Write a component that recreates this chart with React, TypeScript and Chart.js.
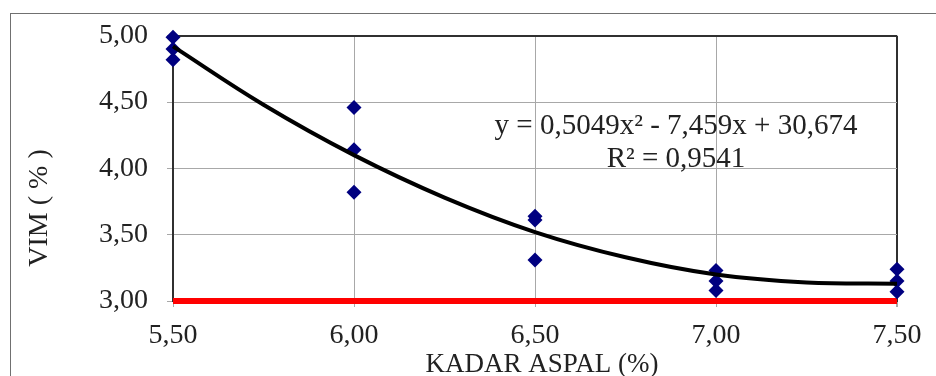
import React, { useEffect, useRef } from "react";
import { Chart, registerables } from "chart.js";

Chart.register(...registerables);

// Data
const kadarAspal = [5.5, 6.0, 6.5, 7.0, 7.5];
const vimBenda1 = [4.99, 4.46, 3.64, 3.23, 3.24];
const vimBenda2 = [4.9, 4.14, 3.61, 3.15, 3.15];
const vimBenda3 = [4.82, 3.82, 3.31, 3.08, 3.07];

const trendX = [5.5, 5.75, 6.0, 6.25, 6.5, 6.75, 7.0, 7.25, 7.5];
const trendY = [4.92, 4.48, 4.1, 3.78, 3.52, 3.33, 3.2, 3.14, 3.13];

const batasX = [5.5, 7.5];
const batasY = [3.0, 3.0];

const yTicks = [3.0, 3.5, 4.0, 4.5, 5.0];
const xTicks = [5.5, 6.0, 6.5, 7.0, 7.5];

const equationText = "y = 0,5049x² - 7,459x + 30,674";
const r2Text = "R² = 0,9541";
const xTitle = "KADAR ASPAL (%)";
const yTitle = "VIM ( % )";

const FONT = "'Liberation Serif', 'Times New Roman', serif";
const fmt = (v: number) => v.toFixed(2).replace(".", ",");

export default function App() {
  const ref = useRef<HTMLCanvasElement | null>(null);

  useEffect(() => {
    if (!ref.current) return;
    const points: { x: number; y: number }[] = [];
    kadarAspal.forEach((x, i) => {
      points.push({ x, y: vimBenda1[i] });
      points.push({ x, y: vimBenda2[i] });
      points.push({ x, y: vimBenda3[i] });
    });

    const decor = {
      id: "decor",
      beforeDraw(chart: any) {
        const { ctx } = chart;
        ctx.save();
        ctx.fillStyle = "#ffffff";
        ctx.fillRect(0, 0, chart.width, chart.height);
        ctx.strokeStyle = "#707070";
        ctx.lineWidth = 1;
        ctx.strokeRect(10.5, 13.5, chart.width + 20, chart.height + 20);
        ctx.restore();
      },
      afterDraw(chart: any) {
        const { ctx, chartArea } = chart;
        ctx.save();
        ctx.fillStyle = "#222";
        ctx.textAlign = "center";
        ctx.textBaseline = "middle";
        ctx.font = `29px ${FONT}`;
        ctx.fillText(equationText, 676, 126);
        ctx.fillText(r2Text, 676, 159);
        ctx.font = `27px ${FONT}`;
        ctx.fillText(xTitle, (chartArea.left + chartArea.right) / 2 + 7, 365);
        ctx.font = `28px ${FONT}`;
        ctx.translate(40, 208);
        ctx.rotate(-Math.PI / 2);
        ctx.fillText(yTitle, 0, 0);
        ctx.restore();
      },
    };

    const chart = new Chart(ref.current, {
      type: "scatter",
      data: {
        datasets: [
          {
            label: "Batas",
            type: "line",
            data: batasX.map((x, i) => ({ x, y: batasY[i] })),
            borderColor: "#ff0000",
            borderWidth: 6,
            pointRadius: 0,
            clip: false,
            order: 3,
          } as any,
          {
            label: "VIM",
            data: points,
            pointStyle: "rectRot",
            pointRadius: 7.5,
            backgroundColor: "#000080",
            borderColor: "#000080",
            borderWidth: 0,
            clip: false,
            order: 2,
          } as any,
          {
            label: "Trend",
            type: "line",
            data: trendX.map((x, i) => ({ x, y: trendY[i] })),
            borderColor: "#000000",
            borderWidth: 4,
            pointRadius: 0,
            tension: 0.4,
            clip: false,
            order: 1,
          } as any,
        ],
      },
      options: {
        animation: false,
        responsive: false,
        layout: { padding: { left: 0, top: 30, right: 39, bottom: 0 } },
        plugins: { legend: { display: false }, tooltip: { enabled: false } },
        scales: {
          x: {
            type: "linear",
            min: 5.5,
            max: 7.5,
            afterBuildTicks: (s: any) => {
              s.ticks = xTicks.map((v) => ({ value: v }));
            },
            afterFit: (s: any) => {
              s.height = 75;
            },
            ticks: {
              callback: (v: any) => fmt(Number(v)),
              color: "#222",
              font: { family: FONT, size: 28 },
              padding: 12,
              maxRotation: 0,
            },
            grid: {
              color: (c: any) => (c.tick && c.tick.value === 7.5 ? "#303030" : "#a8a8a8"),
              tickColor: "#a8a8a8",
              tickLength: 6,
              lineWidth: (c: any) => (c.tick && c.tick.value === 7.5 ? 2 : 1),
            },
            border: { color: "#303030", width: 1 },
          },
          y: {
            type: "linear",
            min: 3,
            max: 5,
            afterBuildTicks: (s: any) => {
              s.ticks = yTicks.map((v) => ({ value: v }));
            },
            afterFit: (s: any) => {
              s.width = 173;
            },
            ticks: {
              callback: (v: any) => fmt(Number(v)),
              color: "#222",
              font: { family: FONT, size: 28 },
              padding: 19,
            },
            grid: {
              color: (c: any) => (c.tick && c.tick.value === 5 ? "#303030" : "#a8a8a8"),
              tickColor: "#a8a8a8",
              tickLength: 6,
              lineWidth: (c: any) => (c.tick && c.tick.value === 5 ? 2 : 1),
            },
            border: { color: "#303030", width: 2 },
          },
        },
      },
      plugins: [decor],
    });
    return () => chart.destroy();
  }, []);

  return (
    <div style={{ position: "fixed", left: 0, top: 0, width: 936, height: 376, background: "#fff" }}>
      <canvas ref={ref} width={936} height={376} />
    </div>
  );
}
